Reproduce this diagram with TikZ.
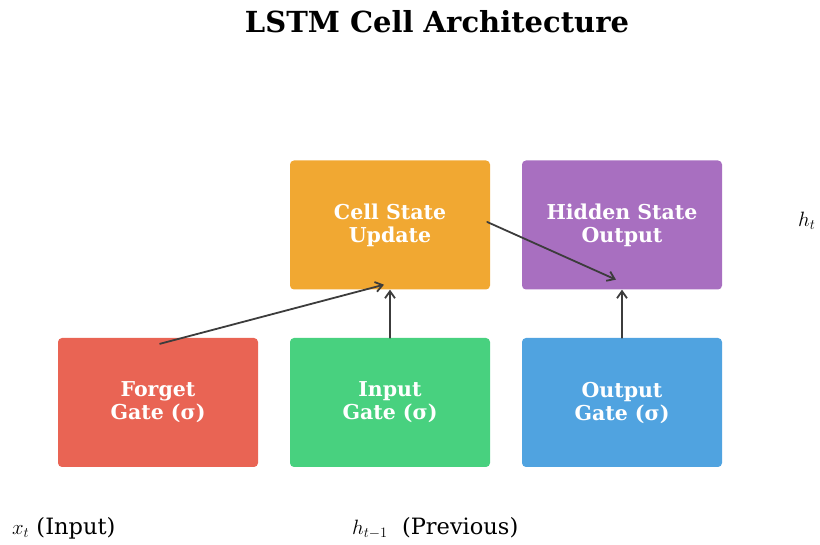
\documentclass[tikz,border=0pt]{standalone}
\usepackage{fontspec}
\setmainfont{DejaVu Serif}
\usetikzlibrary{arrows.meta}
\definecolor{forgetred}{RGB}{233,100,84}
\definecolor{inputgreen}{RGB}{72,209,127}
\definecolor{outputblue}{RGB}{80,163,224}
\definecolor{cellorange}{RGB}{241,168,50}
\definecolor{hiddenpurple}{RGB}{168,111,192}
\definecolor{arrowgray}{RGB}{60,60,60}
\begin{document}
\begin{tikzpicture}[x=1pt,y=1pt,line cap=round,line join=round,
  gate/.style={rounded corners=4pt,minimum width=200pt,minimum height=129pt,inner sep=0pt,
    text=white,font=\bfseries\fontsize{20.5}{23}\selectfont,align=center},
  flow/.style={-{Straight Barb[length=7pt,width=10pt]},line width=1.8pt,draw=arrowgray}]
\useasboundingbox (0,0) rectangle (820,545);
\node[font=\bfseries\fontsize{29}{33}\selectfont] (title) at (437,523) {LSTM Cell Architecture};
% gates
\node[gate,fill=forgetred] (forget) at (158,142.5) {Forget\\Gate (σ)};
\node[gate,fill=inputgreen] (input) at (390,142.5) {Input\\Gate (σ)};
\node[gate,fill=outputblue] (output) at (622,142.5) {Output\\Gate (σ)};
\node[gate,fill=cellorange] (cell) at (390,320) {Cell State\\Update};
\node[gate,fill=hiddenpurple] (hidden) at (622,320) {Hidden State\\Output};
% connections
\draw[flow] ([xshift=2pt,yshift=-6pt]forget.north) -- ([xshift=-6pt,yshift=5pt]cell.south);
\draw[flow] (input.north) -- (cell.south);
\draw[flow] ([xshift=-3pt,yshift=3pt]cell.east) -- ([xshift=-6pt,yshift=10pt]hidden.south);
\draw[flow] (output.north) -- (hidden.south);
\begin{scope}[font=\fontsize{22.5}{26}\selectfont]
\node[anchor=west,inner sep=0pt] (xin) at (12,17) {$x_t$ (Input)};
\node[anchor=west,inner sep=0pt] (hprev) at (352,17) {$h_{t-1}$\ \ (Previous)};
\node[anchor=west,inner sep=0pt] (hout) at (798,324) {$h_t$};
\end{scope}
\end{tikzpicture}
\end{document}
